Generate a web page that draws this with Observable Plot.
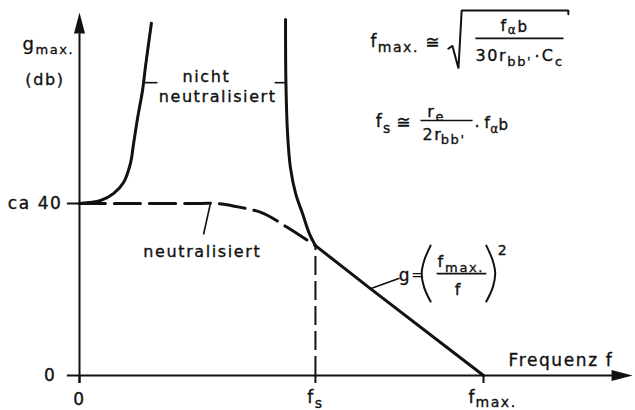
<!DOCTYPE html>
<html>
<head>
<meta charset="utf-8">
<script src="https://cdn.jsdelivr.net/npm/d3@7"></script>
<script src="https://cdn.jsdelivr.net/npm/@observablehq/plot@0.6"></script>
<style>
  html, body { margin: 0; padding: 0; background: #fff; }
  #chart svg { display: block; }
</style>
</head>
<body>
<div id="chart"></div>
<script>
// ---- data (x in units where f_max = 10, y in dB where "ca 40" = 40) ----
const fS = 5.84;
const fMax = 10;
const gLevel = 40;

// "nicht neutralisiert" – left branch
const leftX = [0.0, 0.52, 0.84, 1.09, 1.26, 1.34, 1.44, 1.56, 1.63, 1.71, 1.78];
const leftY = [40.0, 40.7, 42.3, 44.9, 49.3, 54.0, 60.0, 66.3, 71.6, 77.2, 81.9];
// "nicht neutralisiert" – right branch
const rightX = [5.10, 5.11, 5.15, 5.22, 5.35, 5.52, 5.69, 5.84];
const rightY = [82.8, 67.9, 56.3, 48.4, 42.3, 37.7, 33.0, 30.2];
// "neutralisiert" (dashed)
const neutX = [0.0, 1.5, 3.0, 3.42, 3.99, 4.55, 5.15, 5.84];
const neutY = [40.0, 40.0, 40.0, 40.0, 39.1, 37.7, 34.4, 30.2];
// g = (fmax/f)^2 branch
const slopeX = [5.84, 7.20, 10.0];
const slopeY = [30.2, 20.2, 0.0];

// axis extents
const xAxisMin = -0.30, xAxisEnd = 13.19, xAxisTip = 13.69;
const yAxisMin = -1.86, yAxisEnd = 79.5, yAxisTip = 84.4;
const tickLen = -1.86;
const xTicks = [0, fS, fMax];

// leader lines [x1, y1, x2, y2]
const leaders = [
  [1.58, 68.1, 1.93, 68.1],
  [4.83, 68.1, 5.12, 68.1],
  [3.24, 40.0, 3.07, 32.8],
  [7.20, 20.2, 7.92, 22.6]
];
// fraction bars [x1, x2, y]
const fracBars = [
  [8.84, 10.07, 23.7],
  [9.80, 11.98, 78.4],
  [8.44, 9.73, 59.3]
];
// parentheses & root sign outlines
const parenL = [[8.69, 30.2], [8.53, 26.7], [8.47, 23.7], [8.53, 20.5], [8.69, 17.2]];
const parenR = [[10.07, 30.2], [10.23, 26.7], [10.29, 23.7], [10.23, 20.5], [10.07, 17.2]];
const rootSign = [[9.13, 76.0], [9.23, 76.7], [9.38, 71.4], [9.46, 84.9], [12.10, 84.9], [12.10, 84.0]];

// text labels
const labelText   = ["g", "max.", "(db)", "ca 40", "0", "0", "f", "s", "f", "max.", "Frequenz f",
                     "nicht", "neutralisiert", "neutralisiert",
                     "g", "=", "f", "max.", "f", "2",
                     "f", "max.", "≅", "f", "α", "b", "30r", "bb'", "·", "C", "c",
                     "f", "s", "≅", "r", "e", "2r", "bb'", "·", "f", "α", "b"];
const labelX      = [-1.41, -1.09, -1.34, -0.42, -0.57, 0, 5.64, 5.82, 9.63, 9.80, 10.62,
                     3.14, 3.42, 3.04,
                     7.90, 8.22, 8.86, 9.05, 9.38, 10.35,
                     7.20, 7.38, 8.56, 10.42, 10.60, 10.84, 9.80, 10.59, 11.26, 11.44, 11.77,
                     7.33, 7.51, 7.84, 8.61, 8.81, 8.49, 8.94, 9.78, 10.02, 10.17, 10.37];
const labelY      = [77.0, 75.8, 68.8, 40.0, 0.0, -5.6, -5.1, -6.5, -5.1, -6.3, 3.5,
                     69.5, 64.7, 28.8,
                     23.3, 23.5, 26.5, 25.1, 20.0, 29.1,
                     77.7, 76.3, 77.4, 81.4, 80.4, 81.0, 74.4, 73.0, 74.0, 74.4, 73.0,
                     59.1, 57.4, 58.8, 61.2, 60.2, 56.0, 54.9, 57.9, 58.8, 57.4, 58.1];
const labelSize   = [18, 13, 16, 17, 17, 17, 17, 14, 17, 14, 17,
                     16, 16, 16,
                     17, 13, 16, 13, 16, 14,
                     17, 14, 17, 16, 12, 15, 16, 13, 16, 16, 13,
                     17, 14, 17, 16, 13, 16, 13, 16, 16, 12, 15];
const labelAnchor = ["start", "start", "start", "end", "end", "middle", "start", "start", "start", "start", "start",
                     "middle", "middle", "middle",
                     "start", "start", "start", "start", "middle", "start",
                     "start", "start", "start", "start", "start", "start", "start", "start", "start", "start", "start",
                     "start", "start", "start", "start", "start", "start", "start", "start", "start", "start", "start"];

// ---- build tables ----
const toPts = (xs, ys) => xs.map((x, i) => ({x, y: ys[i]}));
const labels = labelText.map((t, i) => ({text: t, x: labelX[i], y: labelY[i], size: labelSize[i], anchor: labelAnchor[i]}));
const ink = "#111";

const arrowHead = {
  draw(ctx) {
    ctx.moveTo(0, 0);
    ctx.lineTo(5.5, 21);
    ctx.lineTo(-5.5, 21);
    ctx.closePath();
  }
};

const textMark = (anchor) => Plot.text(labels.filter(d => d.anchor === anchor), {
  x: "x", y: "y", text: "text", fontSize: d => d.size, textAnchor: anchor, fill: ink,
  stroke: ink, strokeWidth: 0.35, fontFamily: "DejaVu Sans"
});

const chart = Plot.plot({
  width: 635,
  height: 410,
  margin: 0,
  style: {background: "#fff", letterSpacing: "1.6px", fontFamily: "DejaVu Sans"},
  x: {domain: [0, fMax], range: [79, 483], axis: null},
  y: {domain: [0, gLevel], range: [375, 203], axis: null},
  marks: [
    // axes
    Plot.ruleX([0], {y1: yAxisMin, y2: yAxisEnd, stroke: ink, strokeWidth: 2}),
    Plot.ruleY([0], {x1: xAxisMin, x2: xAxisEnd, stroke: ink, strokeWidth: 2}),
    Plot.ruleX(xTicks, {y1: tickLen, y2: 0, stroke: ink, strokeWidth: 2}),
    Plot.ruleY([gLevel], {x1: xAxisMin, x2: 0, stroke: ink, strokeWidth: 2}),
    Plot.dot([{x: 0, y: yAxisTip}], {x: "x", y: "y", symbol: arrowHead, fill: ink, stroke: "none"}),
    Plot.dot([{x: xAxisTip, y: 0}], {x: "x", y: "y", symbol: arrowHead, rotate: 90, fill: ink, stroke: "none"}),
    // f_s dashed drop line
    Plot.ruleX([fS], {y1: 0, y2: 30.2, stroke: ink, strokeWidth: 2, strokeDasharray: "19,6"}),
    // curves
    Plot.line(toPts(neutX, neutY), {x: "x", y: "y", curve: "catmull-rom", stroke: ink, strokeWidth: 3, strokeDasharray: "26,9"}),
    Plot.line(toPts(leftX, leftY), {x: "x", y: "y", curve: "catmull-rom", stroke: ink, strokeWidth: 3}),
    Plot.line(toPts(rightX, rightY), {x: "x", y: "y", curve: "catmull-rom", stroke: ink, strokeWidth: 3}),
    Plot.line(toPts(slopeX, slopeY), {x: "x", y: "y", stroke: ink, strokeWidth: 3}),
    // annotation leaders
    Plot.link(leaders, {x1: d => d[0], y1: d => d[1], x2: d => d[2], y2: d => d[3], stroke: ink, strokeWidth: 1.6}),
    Plot.link(fracBars, {x1: d => d[0], y1: d => d[2], x2: d => d[1], y2: d => d[2], stroke: ink, strokeWidth: 1.6}),
    Plot.line(parenL, {x: d => d[0], y: d => d[1], curve: "catmull-rom", stroke: ink, strokeWidth: 2}),
    Plot.line(parenR, {x: d => d[0], y: d => d[1], curve: "catmull-rom", stroke: ink, strokeWidth: 2}),
    Plot.line(rootSign, {x: d => d[0], y: d => d[1], stroke: ink, strokeWidth: 2, strokeLinejoin: "miter"}),
    // text
    textMark("start"),
    textMark("middle"),
    textMark("end")
  ]
});
document.getElementById("chart").appendChild(chart);
</script>
</body>
</html>
